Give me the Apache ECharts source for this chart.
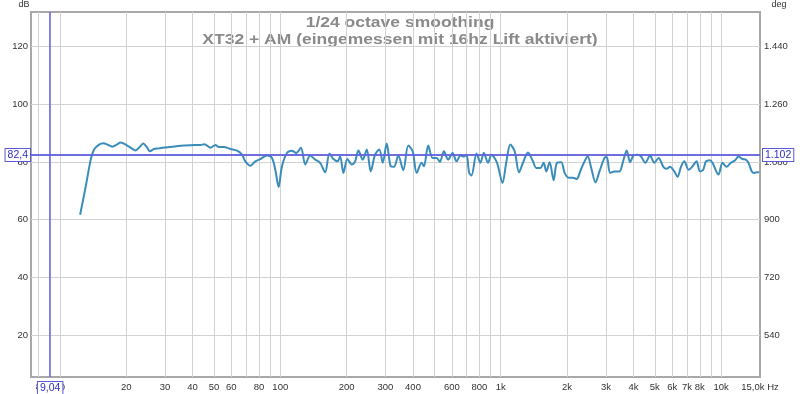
<!DOCTYPE html>
<html>
<head>
<meta charset="utf-8">
<script src="https://cdn.jsdelivr.net/npm/echarts@6/dist/echarts.min.js"></script>
<style>
html,body{margin:0;padding:0;background:#fff;}
#chart{width:800px;height:394px;}
</style>
</head>
<body>
<div id="chart"></div>
<script>
const titleLine1 = '1/24 octave smoothing';
const titleLine2 = 'XT32 + AM (eingemessen mit 16hz Lift aktiviert)';

const freqs = [12.36,13.11,13.81,14.30,15.06,15.77,16.44,17.32,18.11,18.88,19.89,20.96,22.08,22.85,23.92,24.76,25.63,26.72,28.14,29.65,31.78,35.27,39.15,43.45,45.30,48.24,50.81,52.59,55.40,59.39,63.70,67.10,69.44,73.17,77.09,81.21,
87.07,91.71,94.93,98.24,101.8,107.2,112.9,118.1,124.1,129.8,136.7,144.0,151.7,159.8,167.1,174.3,181.7,186.9,193.4,201.6,211.1,218.5,226.2,236.7,246.8,257.3,269.1,281.4,291.5,303.9,316.9,328.0,343.0,361.4,380.7,398.6,415.6,
437.7,448.3,468.8,490.9,511.7,529.7,552.2,577.5,604.6,630.4,657.3,680.4,699.8,719.0,737.2,776.3,809.4,837.8,876.1,907.8,962.3,1018,1061,1106,1157,1210,1262,1329,1400,1450,1512,1565,1610,1667,1738,1798,1883,1949,2037,2124,2214,2294,2399,2483,
2573,2691,2805,2955,3027,3136,3280,3456,3576,3728,3863,3998,4181,4331,4530,4757,4975,5203,5465,5656,5860,6128,6343,6571,6801,7112,7415,7731,8010,8291,8527,8890,9134,9723,10136,10568,11064,11570,11977,12488,12936,13291,13770,14104,14600,14858];

const spl = [61.7,71.5,80.8,84.3,86.0,86.5,86.0,85.3,86.0,86.7,86.0,84.9,84.0,84.9,86.4,85.2,83.7,84.5,84.7,85.0,85.2,85.6,85.8,85.9,86.1,84.9,85.9,85.2,85.2,84.5,83.9,82.5,80.2,78.7,80.2,81.0,
82.2,81.4,77.3,71.3,78.5,83.1,83.9,83.1,84.9,79.1,82.2,80.8,79.7,76.4,82.9,81.0,80.2,81.9,76.2,81.0,79.1,80.2,84.0,80.8,84.3,76.7,82.5,84.3,79.7,86.4,78.5,78.3,82.2,77.1,85.7,83.7,76.2,
79.7,78.5,85.7,81.4,81.4,80.0,83.7,80.8,83.1,80.2,82.2,81.9,82.5,76.2,75.3,82.9,79.7,83.1,79.7,82.5,79.7,72.7,80.2,86.0,83.7,76.4,79.7,83.3,80.2,77.9,77.9,79.7,76.7,79.9,73.6,79.7,79.9,76.2,74.5,74.5,74.1,76.7,80.2,81.9,
77.9,72.9,76.7,81.4,81.7,76.2,76.7,76.7,79.7,84.0,79.9,82.2,82.5,81.9,79.7,82.2,79.7,81.4,78.3,77.6,78.3,76.7,74.8,78.3,80.2,77.3,78.5,80.2,76.7,77.3,80.2,80.6,79.7,75.6,79.7,78.3,79.7,80.6,81.9,81.0,80.8,79.7,76.7,76.2,76.4,76.4];

const xGridValues = [8,9,10,20,30,40,50,60,70,80,90,100,200,300,400,500,600,700,800,900,1000,2000,3000,4000,5000,6000,7000,8000,9000,10000];
const xLabelValues = [8,10,20,30,40,50,60,80,100,200,300,400,600,800,1000,2000,3000,4000,5000,6000,7000,8000,10000,15000];
const xLabelTexts = ['8','10','20','30','40','50','60','80','100','200','300','400','600','800','1k','2k','3k','4k','5k','6k','7k','8k','10k','15,0k Hz'];

const yTickValues = [20,40,60,80,100,120];
const yLeftLabels = ['20','40','60','80','100','120'];
const yRightLabels = ['540','720','900','1.080','1.260','1.440'];

const markerFreq = 9.04;
const markerFreqLabel = '9,04';
const markerLevel = 82.4;
const markerLevelLabel = '82,4';
const markerPhaseLabel = '1.102';

const xMin = 7.4, xMax = 15000;
const yMin = 5.4, yMax = 132;

function lookup(vals, texts, v) {
  for (let i = 0; i < vals.length; i++) {
    if (Math.abs(Math.log10(v / vals[i])) < 1e-6) return texts[i];
  }
  return '';
}

const data = freqs.map((f, i) => [f, spl[i]]);

const chart = echarts.init(document.getElementById('chart'), null, {renderer: 'canvas'});
const labelFont = {fontFamily: 'Liberation Sans, Arial, sans-serif', fontSize: 9.5, color: '#333'};
const boxLabel = {
  color: '#2e2ec8', backgroundColor: '#fff', borderColor: '#5a5ad6', borderWidth: 1,
  padding: [1, 2, 0, 2], fontSize: 10.5, fontFamily: 'Liberation Sans, Arial, sans-serif'
};

chart.setOption({
  animation: false,
  backgroundColor: '#fff',
  grid: {left: 31, right: 40, top: 12, bottom: 17, show: true, borderColor: '#a8a8a8', borderWidth: 2, backgroundColor: '#fff'},
  graphic: [
    {type: 'text', x: 400, y: 23, scaleY: 0.82, style: {text: titleLine1, textAlign: 'center', textVerticalAlign: 'middle', font: 'bold 17.5px Liberation Sans, Arial, sans-serif', fill: '#8a8a8a'}},
    {type: 'text', x: 400, y: 40.5, scaleY: 0.82, style: {text: titleLine2, textAlign: 'center', textVerticalAlign: 'middle', font: 'bold 17.5px Liberation Sans, Arial, sans-serif', fill: '#8a8a8a'}},
    {type: 'text', x: 24, y: 5, style: {text: 'dB', textAlign: 'center', textVerticalAlign: 'middle', font: '9px Liberation Sans, Arial, sans-serif', fill: '#333'}},
    {type: 'text', x: 779, y: 5, style: {text: 'deg', textAlign: 'center', textVerticalAlign: 'middle', font: '9px Liberation Sans, Arial, sans-serif', fill: '#333'}}
  ],
  xAxis: {
    type: 'log', logBase: 10, min: xMin, max: xMax,
    axisLine: {show: false},
    axisTick: {show: false, customValues: xGridValues},
    axisLabel: Object.assign({customValues: xLabelValues, margin: 5, hideOverlap: false,
      formatter: v => lookup(xLabelValues, xLabelTexts, v)}, labelFont),
    splitLine: {show: true, lineStyle: {color: '#d2d2d2', width: 1}}
  },
  yAxis: [
    {
      type: 'value', min: yMin, max: yMax, position: 'left',
      axisLine: {show: false},
      axisTick: {show: false, customValues: yTickValues},
      axisLabel: Object.assign({customValues: yTickValues, margin: 3,
        formatter: v => lookup(yTickValues, yLeftLabels, v)}, labelFont),
      splitLine: {show: true, lineStyle: {color: '#d2d2d2', width: 1}}
    },
    {
      type: 'value', min: yMin, max: yMax, position: 'right',
      axisLine: {show: false},
      axisTick: {show: false, customValues: yTickValues},
      axisLabel: Object.assign({customValues: yTickValues, margin: 4,
        formatter: v => lookup(yTickValues, yRightLabels, v)}, labelFont),
      splitLine: {show: false}
    }
  ],
  series: [{
    type: 'line', data: data, showSymbol: false, smooth: 0.3,
    lineStyle: {color: '#3a8cba', width: 2},
    z: 3,
    markLine: {
      silent: true, symbol: 'none', z: 4,
      lineStyle: {color: '#6464dc', width: 1.5, type: 'solid'},
      label: Object.assign({show: true}, boxLabel),
      data: [
        {yAxis: markerLevel, label: Object.assign({position: 'start', distance: 1, formatter: markerLevelLabel}, boxLabel)},
        {yAxis: markerLevel, label: Object.assign({position: 'end', distance: 3, formatter: markerPhaseLabel}, boxLabel)},
        {xAxis: markerFreq, label: Object.assign({position: 'start', distance: 5, formatter: markerFreqLabel}, boxLabel)}
      ]
    }
  }]
});
</script>
</body>
</html>
